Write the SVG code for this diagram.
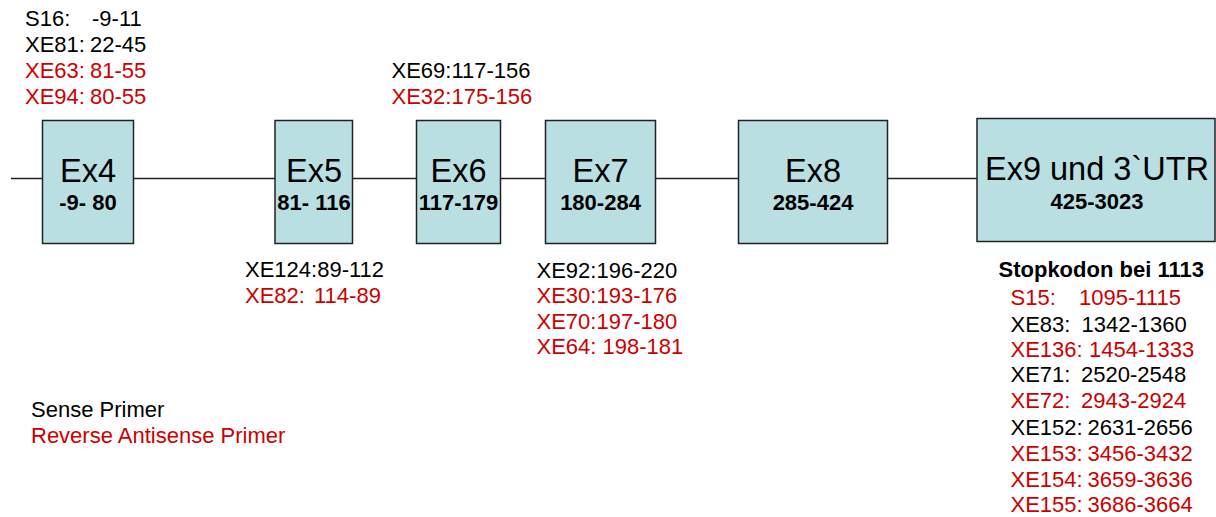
<svg xmlns="http://www.w3.org/2000/svg" width="1216" height="517" viewBox="0 0 1216 517">
<style>
text{font-family:"Liberation Sans",Arial,sans-serif;}
.box{fill:#B9DFE3;stroke:#222;stroke-width:1.5;}
.t{font-size:32.5px;fill:#000;text-anchor:middle;}
.s{font-size:22px;font-weight:bold;fill:#000;text-anchor:middle;}
.k{font-size:22px;fill:#000;}
.r{font-size:22px;fill:#CC0000;}
.line{stroke:#222;stroke-width:1.5;fill:none;}
</style>
<g id="connectors">
<line class="line" x1="11" y1="178.5" x2="977" y2="178.5"/>
</g>
<g id="ex4"><rect class="box" x="42.5" y="120.5" width="91" height="123"/><text class="t" x="88" y="182">Ex4</text><text class="s" x="88" y="210">-9- 80</text></g>
<g id="ex5"><rect class="box" x="275" y="120.5" width="77.5" height="123"/><text class="t" x="314" y="182">Ex5</text><text class="s" x="314" y="210">81- 116</text></g>
<g id="ex6"><rect class="box" x="416.5" y="120.5" width="84" height="123"/><text class="t" x="458.5" y="182">Ex6</text><text class="s" x="458.5" y="210">117-179</text></g>
<g id="ex7"><rect class="box" x="545.5" y="120.5" width="110" height="123"/><text class="t" x="600.5" y="182">Ex7</text><text class="s" x="600.5" y="210">180-284</text></g>
<g id="ex8"><rect class="box" x="738.5" y="120.5" width="149" height="123"/><text class="t" x="813" y="182">Ex8</text><text class="s" x="813" y="210">285-424</text></g>
<g id="ex9"><rect class="box" x="977" y="118.5" width="238" height="123"/><text class="t" x="1097" y="180">Ex9 und 3`UTR</text><text class="s" x="1097" y="209">425-3023</text></g>
<g id="labels-ex4">
<text class="k" x="25" y="26">S16:<tspan x="92">-9-11</tspan></text>
<text class="k" x="25" y="52">XE81:<tspan x="90">22-45</tspan></text>
<text class="r" x="25" y="78">XE63:<tspan x="90">81-55</tspan></text>
<text class="r" x="25" y="104">XE94:<tspan x="90">80-55</tspan></text>
</g>
<g id="labels-ex6">
<text class="k" x="391.5" y="78">XE69:117-156</text>
<text class="r" x="391.5" y="104">XE32:175-156</text>
</g>
<g id="labels-ex5">
<text class="k" x="245" y="277">XE124:89-112</text>
<text class="r" x="245" y="303">XE82:<tspan x="314">114-89</tspan></text>
</g>
<g id="labels-ex7">
<text class="k" x="536.5" y="278">XE92:196-220</text>
<text class="r" x="536.5" y="303">XE30:193-176</text>
<text class="r" x="536.5" y="329">XE70:197-180</text>
<text class="r" x="536.5" y="354">XE64:<tspan x="602.5">198-181</tspan></text>
</g>
<g id="labels-ex9">
<text x="998.5" y="277" style="font-size:22px;font-weight:bold;fill:#000">Stopkodon bei 1113</text>
<text class="r" x="1010.5" y="305">S15:<tspan x="1079">1095-1115</tspan></text>
<text class="k" x="1010.5" y="331.5">XE83:<tspan x="1081.5">1342-1360</tspan></text>
<text class="r" x="1010.5" y="357">XE136:<tspan x="1089">1454-1333</tspan></text>
<text class="k" x="1010.5" y="382">XE71:<tspan x="1081">2520-2548</tspan></text>
<text class="r" x="1010.5" y="408">XE72:<tspan x="1081">2943-2924</tspan></text>
<text class="k" x="1010.5" y="434.5">XE152:<tspan x="1087.5">2631-2656</tspan></text>
<text class="r" x="1010.5" y="461">XE153:<tspan x="1087.5">3456-3432</tspan></text>
<text class="r" x="1010.5" y="487">XE154:<tspan x="1087.5">3659-3636</tspan></text>
<text class="r" x="1010.5" y="512">XE155:<tspan x="1087.5">3686-3664</tspan></text>
</g>
<g id="legend">
<text class="k" x="31" y="417">Sense Primer</text>
<text class="r" x="31" y="443">Reverse Antisense Primer</text>
</g>
</svg>
